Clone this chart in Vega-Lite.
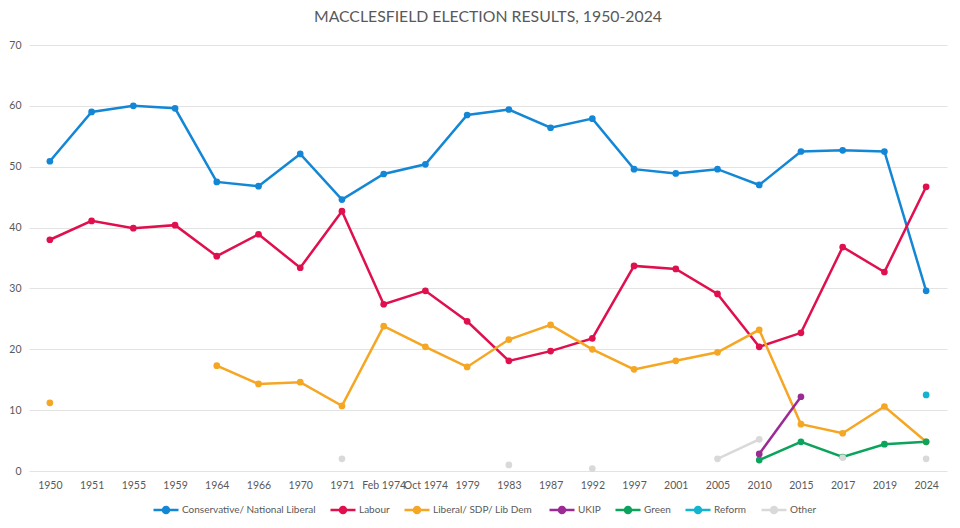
{
  "$schema": "https://vega.github.io/schema/vega-lite/v6.json",
  "width": 918,
  "height": 426,
  "autosize": {"type": "none"},
  "padding": {"left": 29, "top": 45, "right": 13, "bottom": 57},
  "background": "white",
  "title": {
    "text": "MACCLESFIELD ELECTION RESULTS, 1950-2024",
    "font": "Lato",
    "fontSize": 15.8,
    "fontWeight": "normal",
    "color": "#595959",
    "anchor": "middle",
    "offset": 14
  },
  "data": {
    "values": [
      {"year": "1950", "Conservative/ National Liberal": 50.9, "Labour": 38.0, "Liberal/ SDP/ Lib  Dem": 11.2, "UKIP": null, "Green": null, "Reform": null, "Other": null},
      {"year": "1951", "Conservative/ National Liberal": 59.0, "Labour": 41.1, "Liberal/ SDP/ Lib  Dem": null, "UKIP": null, "Green": null, "Reform": null, "Other": null},
      {"year": "1955", "Conservative/ National Liberal": 60.0, "Labour": 39.9, "Liberal/ SDP/ Lib  Dem": null, "UKIP": null, "Green": null, "Reform": null, "Other": null},
      {"year": "1959", "Conservative/ National Liberal": 59.6, "Labour": 40.4, "Liberal/ SDP/ Lib  Dem": null, "UKIP": null, "Green": null, "Reform": null, "Other": null},
      {"year": "1964", "Conservative/ National Liberal": 47.5, "Labour": 35.3, "Liberal/ SDP/ Lib  Dem": 17.3, "UKIP": null, "Green": null, "Reform": null, "Other": null},
      {"year": "1966", "Conservative/ National Liberal": 46.8, "Labour": 38.9, "Liberal/ SDP/ Lib  Dem": 14.3, "UKIP": null, "Green": null, "Reform": null, "Other": null},
      {"year": "1970", "Conservative/ National Liberal": 52.1, "Labour": 33.4, "Liberal/ SDP/ Lib  Dem": 14.6, "UKIP": null, "Green": null, "Reform": null, "Other": null},
      {"year": "1971", "Conservative/ National Liberal": 44.6, "Labour": 42.7, "Liberal/ SDP/ Lib  Dem": 10.7, "UKIP": null, "Green": null, "Reform": null, "Other": 2.0},
      {"year": "Feb 1974", "Conservative/ National Liberal": 48.8, "Labour": 27.4, "Liberal/ SDP/ Lib  Dem": 23.8, "UKIP": null, "Green": null, "Reform": null, "Other": null},
      {"year": "Oct 1974", "Conservative/ National Liberal": 50.4, "Labour": 29.6, "Liberal/ SDP/ Lib  Dem": 20.4, "UKIP": null, "Green": null, "Reform": null, "Other": null},
      {"year": "1979", "Conservative/ National Liberal": 58.5, "Labour": 24.6, "Liberal/ SDP/ Lib  Dem": 17.1, "UKIP": null, "Green": null, "Reform": null, "Other": null},
      {"year": "1983", "Conservative/ National Liberal": 59.4, "Labour": 18.1, "Liberal/ SDP/ Lib  Dem": 21.6, "UKIP": null, "Green": null, "Reform": null, "Other": 1.0},
      {"year": "1987", "Conservative/ National Liberal": 56.4, "Labour": 19.7, "Liberal/ SDP/ Lib  Dem": 24.0, "UKIP": null, "Green": null, "Reform": null, "Other": null},
      {"year": "1992", "Conservative/ National Liberal": 57.9, "Labour": 21.8, "Liberal/ SDP/ Lib  Dem": 20.0, "UKIP": null, "Green": null, "Reform": null, "Other": 0.4},
      {"year": "1997", "Conservative/ National Liberal": 49.6, "Labour": 33.7, "Liberal/ SDP/ Lib  Dem": 16.7, "UKIP": null, "Green": null, "Reform": null, "Other": null},
      {"year": "2001", "Conservative/ National Liberal": 48.9, "Labour": 33.2, "Liberal/ SDP/ Lib  Dem": 18.1, "UKIP": null, "Green": null, "Reform": null, "Other": null},
      {"year": "2005", "Conservative/ National Liberal": 49.6, "Labour": 29.1, "Liberal/ SDP/ Lib  Dem": 19.5, "UKIP": null, "Green": null, "Reform": null, "Other": 2.0},
      {"year": "2010", "Conservative/ National Liberal": 47.0, "Labour": 20.4, "Liberal/ SDP/ Lib  Dem": 23.2, "UKIP": 2.8, "Green": 1.8, "Reform": null, "Other": 5.2},
      {"year": "2015", "Conservative/ National Liberal": 52.5, "Labour": 22.7, "Liberal/ SDP/ Lib  Dem": 7.7, "UKIP": 12.2, "Green": 4.8, "Reform": null, "Other": null},
      {"year": "2017", "Conservative/ National Liberal": 52.7, "Labour": 36.8, "Liberal/ SDP/ Lib  Dem": 6.2, "UKIP": null, "Green": 2.3, "Reform": null, "Other": 2.2},
      {"year": "2019", "Conservative/ National Liberal": 52.5, "Labour": 32.7, "Liberal/ SDP/ Lib  Dem": 10.6, "UKIP": null, "Green": 4.4, "Reform": null, "Other": null},
      {"year": "2024", "Conservative/ National Liberal": 29.6, "Labour": 46.7, "Liberal/ SDP/ Lib  Dem": 4.8, "UKIP": null, "Green": 4.8, "Reform": 12.5, "Other": 2.0}
    ]
  },
  "transform": [
    {"fold": ["Conservative/ National Liberal", "Labour", "Liberal/ SDP/ Lib  Dem", "UKIP", "Green", "Reform", "Other"], "as": ["party", "share"]}
  ],
  "mark": {
    "type": "line",
    "strokeWidth": 2.5,
    "invalid": "break-paths-filter-domains",
    "point": {"filled": true, "size": 45, "opacity": 1}
  },
  "encoding": {
    "x": {
      "field": "year",
      "type": "ordinal",
      "sort": null,
      "scale": {"type": "point", "padding": 0.5},
      "axis": {
        "title": null,
        "labelAngle": 0,
        "domain": false,
        "ticks": false,
        "grid": false,
        "labelFont": "Lato",
        "labelFontSize": 10.5,
        "labelColor": "#595959",
        "labelPadding": 9
      }
    },
    "y": {
      "field": "share",
      "type": "quantitative",
      "scale": {"domain": [0, 70], "nice": false},
      "axis": {
        "title": null,
        "values": [0, 10, 20, 30, 40, 50, 60, 70],
        "domain": false,
        "ticks": false,
        "grid": true,
        "gridColor": "#e3e3e3",
        "gridWidth": 1,
        "labelFont": "Lato",
        "labelFontSize": 10.5,
        "labelColor": "#595959",
        "labelPadding": 8
      }
    },
    "color": {
      "field": "party",
      "type": "nominal",
      "scale": {
        "domain": ["Conservative/ National Liberal", "Labour", "Liberal/ SDP/ Lib  Dem", "UKIP", "Green", "Reform", "Other"],
        "range": ["#1387d6", "#e0104f", "#f5a623", "#9c2a94", "#0ca35c", "#14b4d0", "#d9d9d9"]
      },
      "legend": {
        "title": null,
        "orient": "none",
        "legendX": 123,
        "legendY": 451,
        "direction": "horizontal",
        "columns": 7,
        "columnPadding": 9,
        "symbolType": "M-1,0H1M0.24,0A0.24,0.24,0,1,1,-0.24,0A0.24,0.24,0,1,1,0.24,0",
        "symbolSize": 625,
        "symbolStrokeWidth": 2.5,
        "labelFont": "Lato",
        "labelFontSize": 10,
        "labelColor": "#595959",
        "labelOffset": 2,
        "encode": {
          "symbols": {"update": {"fill": {"scale": "color", "field": "value"}, "fillOpacity": {"value": 1}}}
        }
      }
    }
  },
  "config": {
    "view": {"stroke": null}
  }
}
